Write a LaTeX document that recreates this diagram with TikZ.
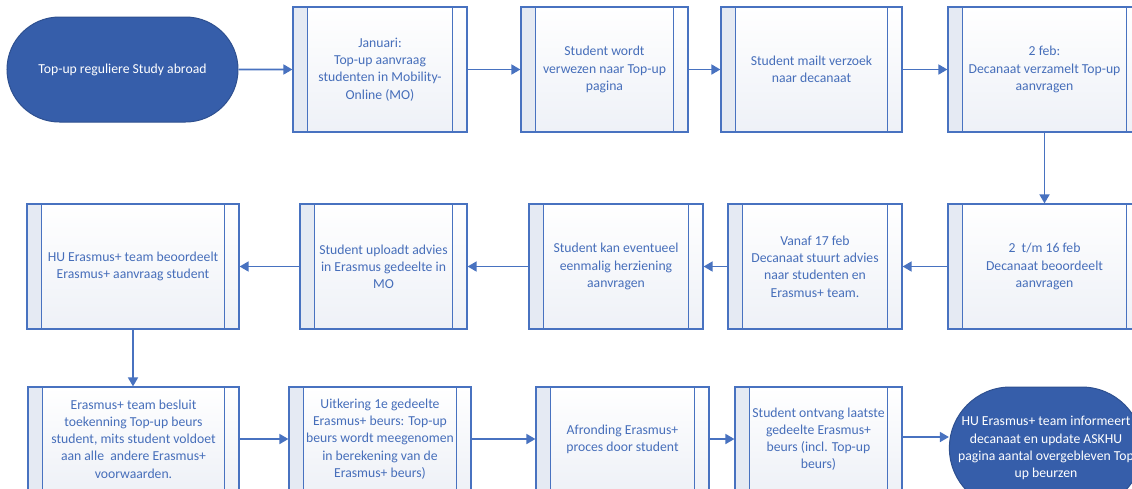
\documentclass[tikz,border=0pt]{standalone}
\usepackage{fontspec}
\setmainfont{Carlito}
\usetikzlibrary{arrows.meta,shapes.misc}
\definecolor{bblue}{RGB}{72,114,192}
\definecolor{tblue}{RGB}{70,110,186}
\definecolor{tfill}{RGB}{54,94,170}
\definecolor{band}{RGB}{229,234,243}
\definecolor{boxbot}{RGB}{238,241,247}
\begin{document}
\begin{tikzpicture}[x=1pt,y=-1pt,
  procbox/.style={draw=bblue, line width=1.2pt, top color=white, bottom color=boxbot,
    minimum height=125pt, inner sep=0pt, align=center, text=tblue,
    font=\fontsize{13.7}{17.2}\selectfont,
    path picture={
      \fill[band] (path picture bounding box.north west) rectangle ([xshift=14.5pt]path picture bounding box.south west);
      \draw[bblue, line width=1.2pt] ([xshift=14.5pt]path picture bounding box.north west) -- ([xshift=14.5pt]path picture bounding box.south west);
      \draw[bblue, line width=1.2pt] ([xshift=-14.5pt]path picture bounding box.north east) -- ([xshift=-14.5pt]path picture bounding box.south east);
    }},
  term/.style={rounded rectangle, draw=tfill!85!black, fill=tfill, line width=1pt,
    text=white, align=center, inner sep=0pt, font=\fontsize{13.7}{17.2}\selectfont},
  arr/.style={draw=bblue, line width=1.7pt, -{Triangle[length=9pt,width=10pt]}}]
\fill[white] (0,0) rectangle (1132,488);
\useasboundingbox (0,0) rectangle (1132,488);

% row 1
\node[term, minimum width=231pt, minimum height=105pt] (t1) at (122.5,69.5) {Top-up reguliere Study abroad};
\node[procbox, minimum width=174pt] (b1) at (380,69.5) {Januari:\\Top-up aanvraag\\studenten in Mobility-\\Online (MO)};
\node[procbox, minimum width=167pt] (b2) at (604.5,69.5) {Student wordt\\verwezen naar Top-up\\pagina};
\node[procbox, minimum width=181pt] (b3) at (811.5,69.5) {Student mailt verzoek\\naar decanaat};
\node[procbox, minimum width=193pt] (b4) at (1044.5,69.5) {2 feb:\\Decanaat verzamelt Top-up\\aanvragen};

% row 2
\node[procbox, minimum width=193pt] (r2e) at (1044.5,266.5) {2~ t/m 16 feb\\Decanaat beoordeelt\\aanvragen};
\node[procbox, minimum width=174pt] (r2d) at (815,266.5) {Vanaf 17 feb\\Decanaat stuurt advies\\naar studenten en\\Erasmus+ team.};
\node[procbox, minimum width=174pt] (r2c) at (616,266.5) {Student kan eventueel\\eenmalig herziening\\aanvragen};
\node[procbox, minimum width=167pt] (r2b) at (383.5,266.5) {Student uploadt advies\\in Erasmus gedeelte in\\MO};
\node[procbox, minimum width=212pt] (r2a) at (133,266.5) {HU Erasmus+ team beoordeelt\\Erasmus+ aanvraag student};

% row 3
\node[procbox, minimum width=211pt, minimum height=104pt] (r3a) at (133.5,439) {Erasmus+ team besluit\\toekenning Top-up beurs\\student, mits student voldoet\\aan alle~ andere Erasmus+\\voorwaarden.};
\node[procbox, minimum width=182pt, minimum height=104pt] (r3b) at (380,439) {Uitkering 1e gedeelte\\Erasmus+ beurs: Top-up\\beurs wordt meegenomen\\in berekening van de\\Erasmus+ beurs)};
\node[procbox, minimum width=173pt, minimum height=104pt] (r3c) at (622.5,439) {Afronding Erasmus+\\proces door student};
\node[procbox, minimum width=167pt, minimum height=104pt] (r3d) at (818.5,439) {Student ontvang laatste\\gedeelte Erasmus+\\beurs (incl. Top-up\\beurs)};
\node[term, minimum width=186pt, minimum height=122pt] (t2) at (1046,448) {HU Erasmus+ team informeert\\decanaat en update ASKHU\\pagina aantal overgebleven Top\\up beurzen};

% connectors
\draw[arr] (t1) -- (b1);
\draw[arr] (b1) -- (b2);
\draw[arr] (b2) -- (b3);
\draw[arr] (b3) -- (b4);
\draw[arr] (b4) -- (r2e);
\draw[arr] (r2e) -- (r2d);
\draw[arr] (r2d) -- (r2c);
\draw[arr] (r2c) -- (r2b);
\draw[arr] (r2b) -- (r2a);
\draw[arr] (r2a.south) -- (r2a.south |- r3a.north);
\draw[arr] (r3a) -- (r3b);
\draw[arr] (r3b) -- (r3c);
\draw[arr] (r3c) -- (r3d);
\coordinate (m4) at ([yshift=2pt]r3d.east);
\draw[arr] (m4) -- (m4 -| t2.west);
\end{tikzpicture}
\end{document}
